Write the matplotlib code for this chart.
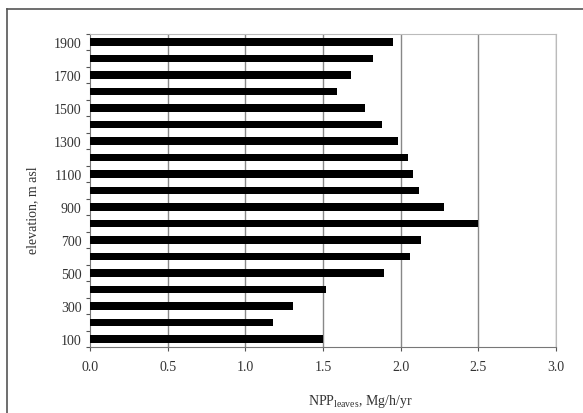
import matplotlib
matplotlib.use("Agg")
import matplotlib.pyplot as plt
import numpy as np
from matplotlib.lines import Line2D

plt.rcParams['font.family'] = ['Liberation Serif', 'DejaVu Serif']

# elevation classes, m asl
elevation = [100, 200, 300, 400, 500, 600, 700, 800, 900, 1000,
             1100, 1200, 1300, 1400, 1500, 1600, 1700, 1800, 1900]
# NPP of leaves, Mg/h/yr
npp = [1.50, 1.18, 1.31, 1.52, 1.89, 2.06, 2.13, 2.50, 2.28, 2.12,
       2.08, 2.05, 1.98, 1.88, 1.77, 1.59, 1.68, 1.82, 1.95]
x_ticks = [0.0, 0.5, 1.0, 1.5, 2.0, 2.5, 3.0]

fig = plt.figure(figsize=(5.83, 4.14), dpi=100)
ax = fig.add_axes([0.1544, 0.1594, 0.7993, 0.7561])

pos = np.arange(len(elevation))
ax.barh(pos, npp, height=0.46, color='black', zorder=3)

ax.set_xlim(0, 3.0)
ax.set_ylim(-0.5, len(elevation) - 0.5)

ax.set_xticks(x_ticks)
ax.set_xticklabels([f"{v:.1f}" for v in x_ticks], fontsize=10, color='#333333')
for v in x_ticks[1:]:
    ax.axvline(v, color='#888888', lw=1.0, zorder=1)

# ticks between categories, labels every second category
ax.set_yticks(np.arange(-0.5, len(elevation), 1.0))
ax.set_yticklabels([])
ax.set_yticks(pos[::2], minor=True)
ax.set_yticklabels([str(e) for e in elevation[::2]], minor=True, fontsize=10, color='#333333')
ax.tick_params(axis='y', which='minor', length=0, pad=6)
ax.tick_params(axis='y', which='major', length=3, direction='out', color='#555555')
ax.tick_params(axis='x', length=3, direction='out', color='#555555', pad=6)

for s in ['top', 'right']:
    ax.spines[s].set_color('#bbbbbb')
for s in ['left', 'bottom']:
    ax.spines[s].set_color('#777777')

ax.set_xlabel("NPP$_{\\mathregular{leaves}}$, Mg/h/yr", fontsize=10, color='#333333')
ax.xaxis.set_label_coords(0.58, -0.145)
ax.set_ylabel("elevation, m asl", fontsize=10, color='#333333')
ax.yaxis.set_label_coords(-0.11, 0.44)

# outer chart border (left and top only visible)
fig.add_artist(Line2D([7 / 583, 7 / 583], [0, 1 - 10 / 414], color='#555555', lw=1.2))
fig.add_artist(Line2D([7 / 583, 1], [1 - 10 / 414, 1 - 10 / 414], color='#555555', lw=1.2))

fig.savefig("out.png", dpi=100)
